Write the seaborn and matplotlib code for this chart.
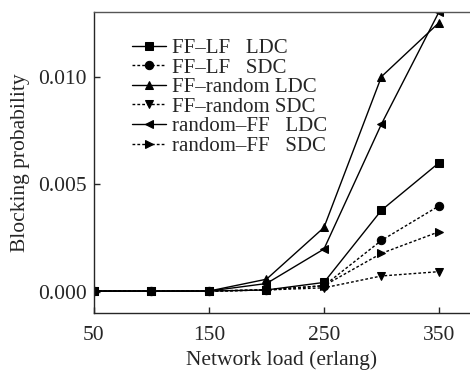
import numpy as np
import pandas as pd
import seaborn as sns
import matplotlib.pyplot as plt

loads = [50, 100, 150, 200, 250, 300, 350]
ff_lf_ldc = [0.00005, 0.00005, 0.00005, 0.0001, 0.00045, 0.0038, 0.0060]
ff_lf_sdc = [0.00005, 0.00005, 0.00005, 0.0001, 0.0003, 0.0024, 0.0040]
ff_random_ldc = [0.00005, 0.00005, 0.00005, 0.0006, 0.0030, 0.0100, 0.0125]
ff_random_sdc = [0.00005, 0.00005, 0.00005, 0.0001, 0.0002, 0.00075, 0.00095]
random_ff_ldc = [0.00005, 0.00005, 0.00005, 0.0004, 0.0020, 0.0078, 0.0130]
random_ff_sdc = [0.00005, 0.00005, 0.00005, 0.0001, 0.0003, 0.0018, 0.0028]

names = ['FF–LF   LDC', 'FF–LF   SDC', 'FF–random LDC', 'FF–random SDC',
         'random–FF   LDC', 'random–FF   SDC']
series = [ff_lf_ldc, ff_lf_sdc, ff_random_ldc, ff_random_sdc, random_ff_ldc, random_ff_sdc]

df = pd.DataFrame({
    'load': loads * len(names),
    'prob': sum(series, []),
    'scheme': [n for n in names for _ in loads],
})

sns.set_style('ticks')
plt.rcParams['font.family'] = ['Liberation Serif', 'DejaVu Serif']

fig = plt.figure(figsize=(4.7, 3.74), dpi=100)
ax = fig.add_axes([0.2, 0.163, 0.8, 0.805])

markers = dict(zip(names, ['s', 'o', '^', 'v', '<', '>']))
dashes = {n: ('' if i % 2 == 0 else (2, 1.5)) for i, n in enumerate(names)}
palette = dict(zip(names, ['black'] * 6))

sns.lineplot(data=df, x='load', y='prob', hue='scheme', style='scheme',
             markers=markers, dashes=dashes, palette=palette, ax=ax,
             markersize=6, markeredgecolor='black', linewidth=1)

ax.set_xlim(50, 377)
ax.set_ylim(-0.00097, 0.0130)
ax.set_xticks([50, 150, 250, 350])
ax.set_yticks([0.0, 0.005, 0.010])
ax.set_yticklabels(['0.000', '0.005', '0.010'])
ax.tick_params(direction='in', labelsize=15.5, length=4, width=1)
ax.tick_params(axis='x', pad=9)
ax.tick_params(axis='y', pad=5)
ax.spines['right'].set_visible(False)
for s in ['left', 'bottom', 'top']:
    ax.spines[s].set_linewidth(1)
ax.spines['top'].set_color('#555555')
ax.set_xlabel('Network load (erlang)', fontsize=15.5, labelpad=4)
ax.set_ylabel('Blocking probability', fontsize=15.5, labelpad=6)

leg = ax.legend(loc='upper left', bbox_to_anchor=(0.08, 0.94), frameon=False,
                fontsize=15, handlelength=1.6, handletextpad=0.3,
                labelspacing=0.0, borderaxespad=0)
for h in leg.legend_handles:
    h.set_markersize(6)

fig.savefig('out.png', dpi=100)
